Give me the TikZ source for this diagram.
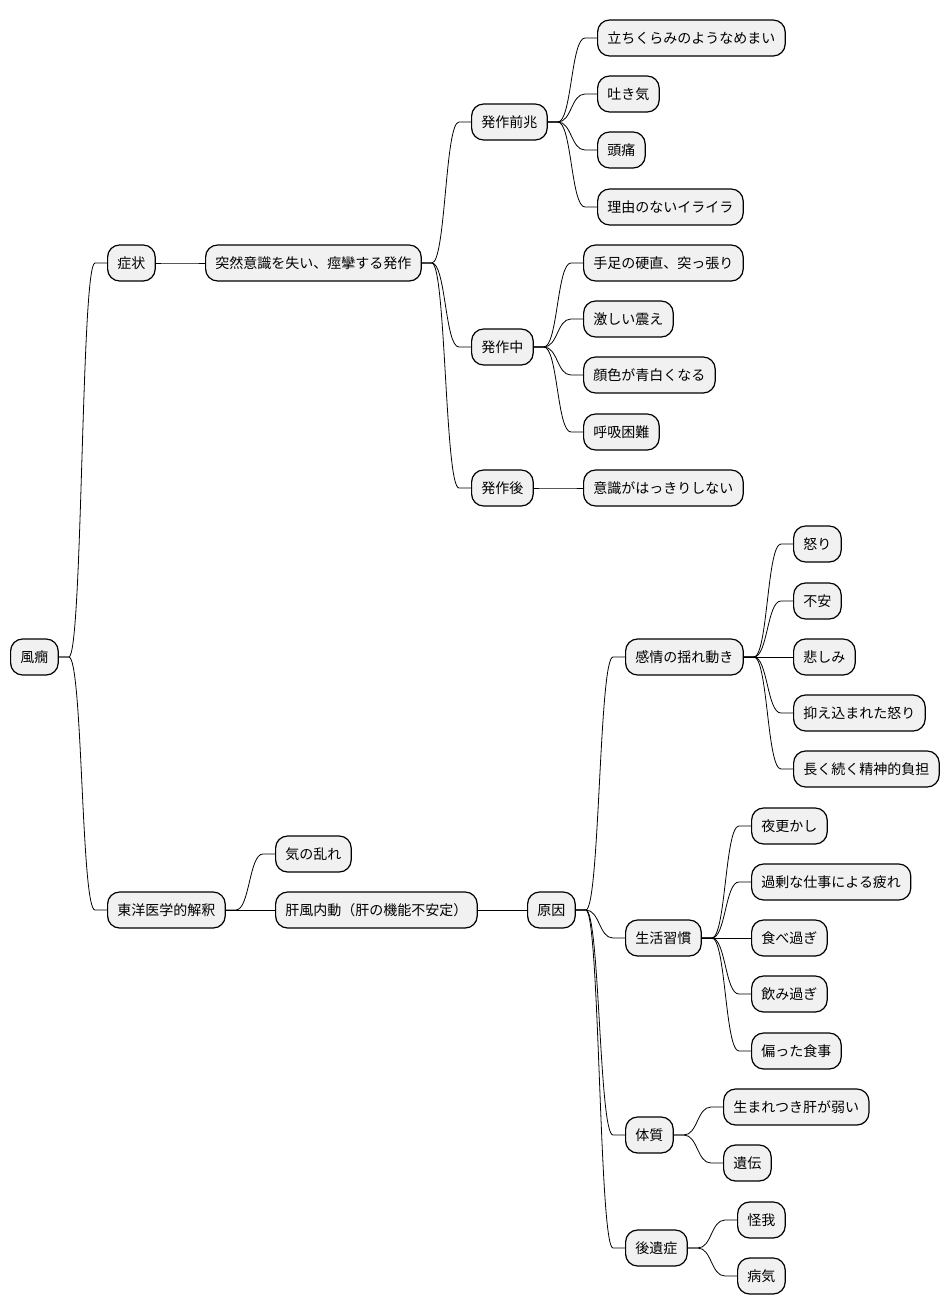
\documentclass[tikz,border=0pt]{standalone}
\usepackage{fontspec}
\newfontfamily\jpfont{Noto Sans CJK JP}
\definecolor{fondboite}{HTML}{F1F1F1}
\tikzset{branche/.style={draw,line width=1.2pt,fill=fondboite,rounded corners=12pt,
minimum height=36pt,inner xsep=9.8pt,inner ysep=0pt,anchor=west,
font=\jpfont\fontsize{14}{16}\selectfont},
lien/.style={line width=0.8pt}}

\begin{document}
\begin{tikzpicture}[x=1pt,y=-1pt]
\useasboundingbox (0,0) rectangle (950,1315);
\node [branche] (root) at (10,657) {風癇};
% symptomes
\node [branche] (sym) at (107,263) {症状};
\node [branche] (att) at (205,263) {突然意識を失い、痙攣する発作};
\node [branche] (pre) at (471,122) {発作前兆};
	\node [branche] (pre1) at (597,38) {立ちくらみのようなめまい};
	\node [branche] (pre2) at (597,94) {吐き気};
	\node [branche] (pre3) at (597,150) {頭痛};
	\node [branche] (pre4) at (597,207) {理由のないイライラ};
\node [branche] (pen) at (471,347) {発作中};
	\node [branche] (pen1) at (583,263) {手足の硬直、突っ張り};
	\node [branche] (pen2) at (583,319) {激しい震え};
	\node [branche] (pen3) at (583,375) {顔色が青白くなる};
	\node [branche] (pen4) at (583,432) {呼吸困難};
\node [branche] (apr) at (471,488) {発作後};
	\node [branche] (apr1) at (583,488) {意識がはっきりしない};
% interpretation
\node [branche] (orient) at (107,910) {東洋医学的解釈};
\node [branche] (ki) at (275,854) {気の乱れ};
\node [branche] (kan) at (275,910) {肝風内動（肝の機能不安定）};
\node [branche] (cause) at (527,910) {原因};
\node [branche] (emo) at (625,657) {感情の揺れ動き};
	\node [branche] (emo1) at (793,544) {怒り};
	\node [branche] (emo2) at (793,601) {不安};
	\node [branche] (emo3) at (793,657) {悲しみ};
	\node [branche] (emo4) at (793,713) {抑え込まれた怒り};
	\node [branche] (emo5) at (793,769) {長く続く精神的負担};
\node [branche] (vie) at (625,938) {生活習慣};
	\node [branche] (vie1) at (751,826) {夜更かし};
	\node [branche] (vie2) at (751,882) {過剰な仕事による疲れ};
	\node [branche] (vie3) at (751,938) {食べ過ぎ};
	\node [branche] (vie4) at (751,994) {飲み過ぎ};
	\node [branche] (vie5) at (751,1051) {偏った食事};
\node [branche] (cons) at (625,1135) {体質};
	\node [branche] (cons1) at (723,1107) {生まれつき肝が弱い};
	\node [branche] (cons2) at (723,1163) {遺伝};
\node [branche] (seq) at (625,1248) {後遺症};
	\node [branche] (seq1) at (737,1220) {怪我};
	\node [branche] (seq2) at (737,1276) {病気};
% liens
\foreach \p/\c in {root/sym,root/orient,sym/att,att/pre,att/pen,att/apr,
	pre/pre1,pre/pre2,pre/pre3,pre/pre4,pen/pen1,pen/pen2,pen/pen3,pen/pen4,apr/apr1,
	orient/ki,orient/kan,kan/cause,cause/emo,cause/vie,cause/cons,cause/seq,
	emo/emo1,emo/emo2,emo/emo3,emo/emo4,emo/emo5,
	vie/vie1,vie/vie2,vie/vie3,vie/vie4,vie/vie5,
	cons/cons1,cons/cons2,seq/seq1,seq/seq2}
	\draw [lien] (\p.east) -- ++(10,0)
		to[out=0,in=180,out distance=14pt,in distance=14pt] ([xshift=-12pt]\c.west) -- (\c.west);
\end{tikzpicture}
\end{document}
